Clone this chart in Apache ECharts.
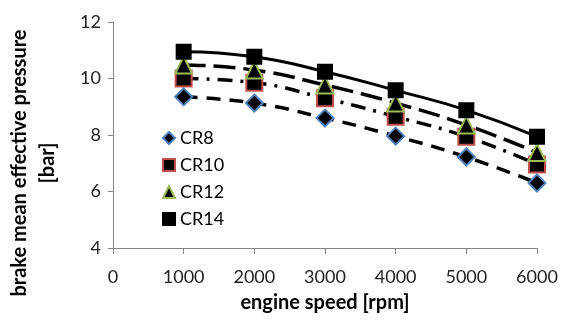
<!DOCTYPE html>
<html>
<head>
<meta charset="utf-8">
<script src="https://cdn.jsdelivr.net/npm/echarts@6/dist/echarts.min.js"></script>
<style>
  html, body { margin: 0; padding: 0; background: #fff; }
  #chart { width: 564px; height: 320px; }
</style>
</head>
<body>
<div id="chart"></div>
<script>
// engine speed [rpm]
const speeds = [1000, 2000, 3000, 4000, 5000, 6000];
// brake mean effective pressure [bar]
const cr8 = [9.35, 9.13, 8.6, 7.96, 7.22, 6.3];
const cr10 = [10.0, 9.85, 9.3, 8.65, 7.94, 6.96];
const cr12 = [10.48, 10.3, 9.77, 9.13, 8.35, 7.38];
const cr14 = [10.95, 10.77, 10.24, 9.58, 8.88, 7.94];

const font = "Lato, 'Open Sans', sans-serif";
const pairs = (ys) => speeds.map((x, i) => [x, ys[i]]);

// trendlines (black, different dash styles) drawn under the markers
const trend = (ys, type, width) => ({
  type: "line",
  data: pairs(ys),
  smooth: true,
  showSymbol: false,
  silent: true,
  z: 1,
  lineStyle: { color: "#000", width: width, type: type },
});

const marks = (name, ys, symbol, size, border) => ({
  name: name,
  type: "scatter",
  data: pairs(ys),
  symbol: symbol,
  symbolSize: size,
  z: 3,
  itemStyle: { color: "#000", borderColor: border, borderWidth: 2, opacity: 1 },
});

const chart = echarts.init(document.getElementById("chart"), null, { renderer: "canvas" });
chart.setOption({
  animation: false,
  backgroundColor: "#fff",
  textStyle: { fontFamily: font },
  grid: { left: 113, right: 27, top: 22, bottom: 72 },
  legend: {
    orient: "vertical",
    left: 157,
    top: 124,
    itemGap: 9,
    itemWidth: 12,
    itemHeight: 12,
    data: ["CR8", "CR10", "CR12", "CR14"],
    textStyle: { fontFamily: font, fontSize: 18, color: "#000" },
  },
  // y title sits a bit below the axis middle, as in the reference
  graphic: [{
    type: "text",
    x: 34,
    y: 163,
    rotation: Math.PI / 2,
    style: {
      text: "brake mean effective pressure\n[bar]",
      font: "bold 20px " + font,
      fill: "#000",
      textAlign: "center",
      textVerticalAlign: "middle",
      lineHeight: 28,
    },
  }],
  xAxis: {
    type: "value",
    min: 0,
    max: 6000,
    interval: 1000,
    name: "engine speed [rpm]",
    nameLocation: "middle",
    nameGap: 45,
    nameTextStyle: { fontFamily: font, fontWeight: "bold", fontSize: 20, color: "#000" },
    axisLine: { lineStyle: { color: "#868686" } },
    axisTick: { show: true, length: 6, lineStyle: { color: "#868686" } },
    axisLabel: { fontSize: 18, color: "#222", margin: 20, formatter: (v) => String(v) },
    splitLine: { show: false },
  },
  yAxis: {
    type: "value",
    min: 4,
    max: 12,
    interval: 2,
    axisLine: { show: true, lineStyle: { color: "#868686" } },
    axisTick: { show: true, length: 5, lineStyle: { color: "#868686" } },
    axisLabel: { fontSize: 18, color: "#222", margin: 12 },
    splitLine: { show: false },
  },
  series: [
    trend(cr8, [14, 9], 3.5),
    trend(cr10, [15, 8, 3, 8], 3.5),
    trend(cr12, [22, 8], 3.5),
    trend(cr14, "solid", 3),
    marks("CR8", cr8, "diamond", 17, "#4F81BD"),
    marks("CR10", cr10, "rect", 16, "#C0504D"),
    marks("CR12", cr12, "triangle", 17, "#9BBB59"),
    marks("CR14", cr14, "rect", 14, "#000"),
  ],
});
</script>
</body>
</html>
